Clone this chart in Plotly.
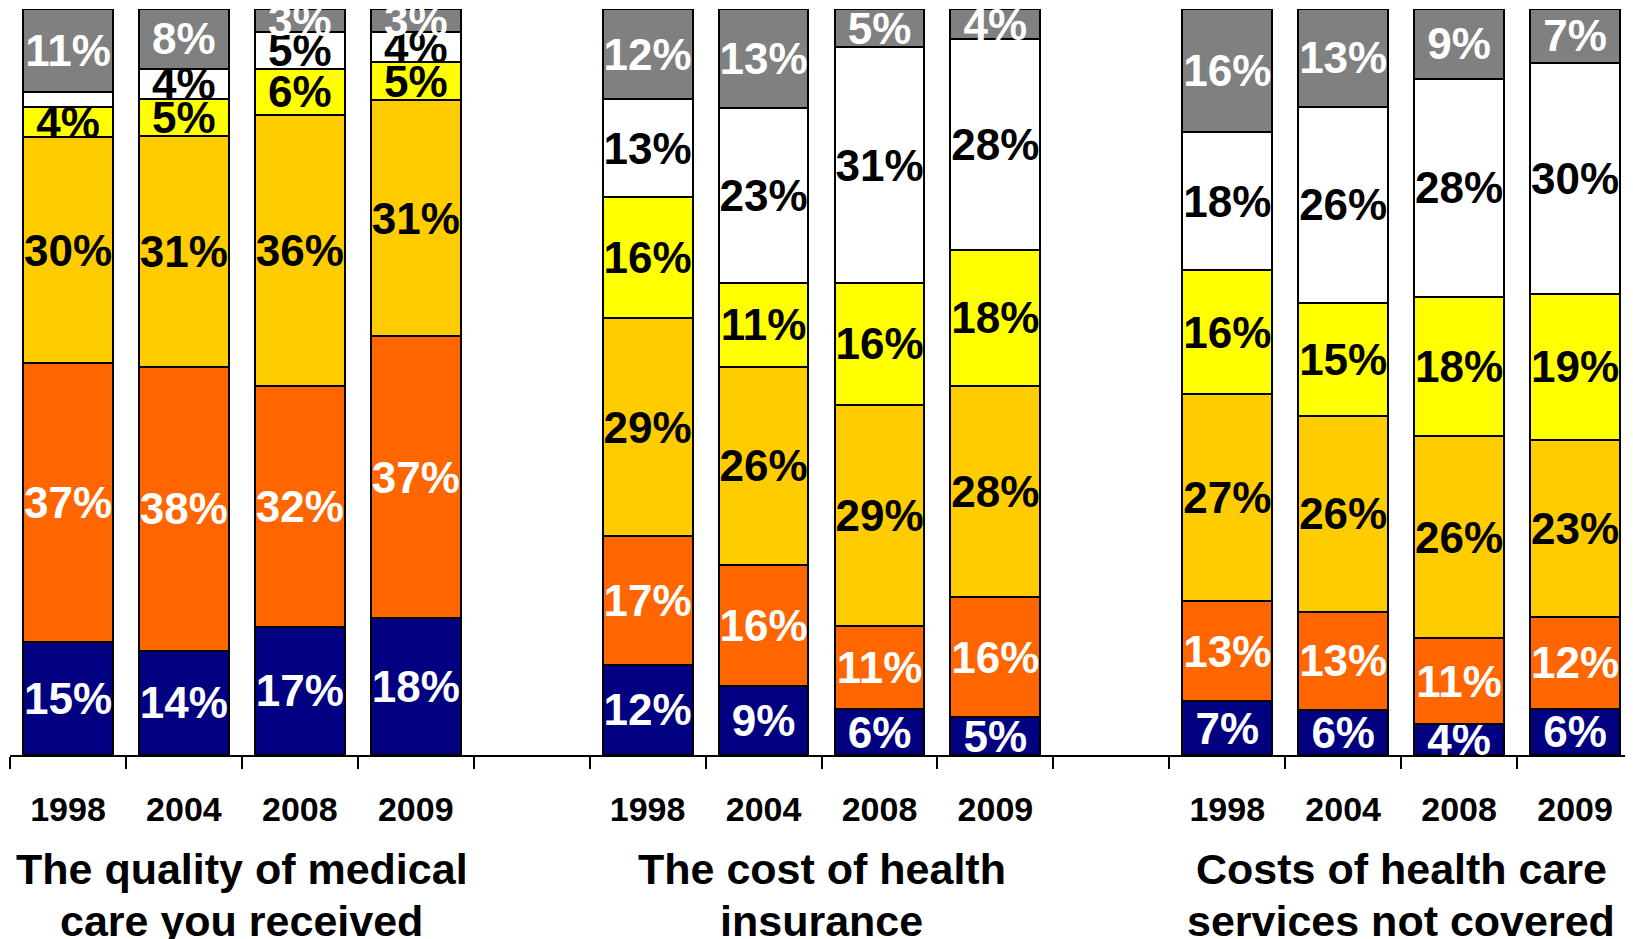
import plotly.graph_objects as go

# ---- data ----
groups = ["The quality of medical<br>care you received",
          "The cost of health<br>insurance",
          "Costs of health care<br>services not covered"]
years = ["1998", "2004", "2008", "2009"]

navy   = [15, 14, 17, 18, 12,  9,  6,  5,  7,  6,  4,  6]
orange = [37, 38, 32, 37, 17, 16, 11, 16, 13, 13, 11, 12]
gold   = [30, 31, 36, 31, 29, 26, 29, 28, 27, 26, 26, 23]
yellow = [ 4,  5,  6,  5, 16, 11, 16, 18, 16, 15, 18, 19]
white  = [ 2,  4,  5,  4, 13, 23, 31, 28, 18, 26, 28, 30]
gray   = [11,  8,  3,  3, 12, 13,  5,  4, 16, 13,  9,  7]

series = [
    ("navy", navy, "#000080", "white"),
    ("orange", orange, "#FF6600", "white"),
    ("gold", gold, "#FFCC00", "black"),
    ("yellow", yellow, "#FFFF00", "black"),
    ("white", white, "#FFFFFF", "black"),
    ("gray", gray, "#808080", "white"),
]

# positions: 4 bars per group, one empty slot between groups
xpos = [g * 5 + j for g in range(len(groups)) for j in range(len(years))]
xlabels = years * len(groups)

FONT = "Liberation Sans, Arial, sans-serif"

fig = go.Figure()
for name, vals, color, tcolor in series:
    fig.add_trace(go.Bar(
        x=xpos, y=vals, name=name,
        marker=dict(color=color, line=dict(color="black", width=2)),
        text=[f"{v}%" if v >= 3 else "" for v in vals],
        textposition="inside", insidetextanchor="middle",
        constraintext="none", textangle=0, cliponaxis=False,
        textfont=dict(family=FONT, size=44, color=tcolor, weight="bold"),
        showlegend=False,
    ))

n_slots = len(groups) * 5 - 1
fig.update_layout(
    barmode="stack", barnorm="percent", bargap=0.225,
    width=1625, height=931,
    margin=dict(l=2, r=0, t=1, b=184),
    plot_bgcolor="white", paper_bgcolor="white",
    xaxis=dict(
        range=[-0.5, n_slots - 0.5],
        tickmode="array", tickvals=xpos, ticktext=xlabels,
        ticks="", showline=True, linecolor="black", linewidth=2,
        showgrid=False, zeroline=False,
        tickfont=dict(family=FONT, size=34, color="black", weight="bold"),
        ticklabelstandoff=23,
        minor=dict(tickmode="array",
                   tickvals=[i - 0.5 for i in range(n_slots + 1)],
                   ticks="outside", ticklen=12, tickwidth=2, tickcolor="black",
                   showgrid=False),
    ),
    yaxis=dict(range=[0, 100.001], visible=False, showgrid=False, zeroline=False),
)

for g, title in enumerate(groups):
    for k, line in enumerate(title.split("<br>")):
        fig.add_annotation(
            x=g * 5 + (len(years) - 1) / 2, xref="x",
            y=0, yref="paper", yanchor="middle",
            yshift=-114 - 52 * k,
            text=line, showarrow=False,
            font=dict(family=FONT, size=43, color="black", weight="bold"),
        )

fig.write_html("out.html")
